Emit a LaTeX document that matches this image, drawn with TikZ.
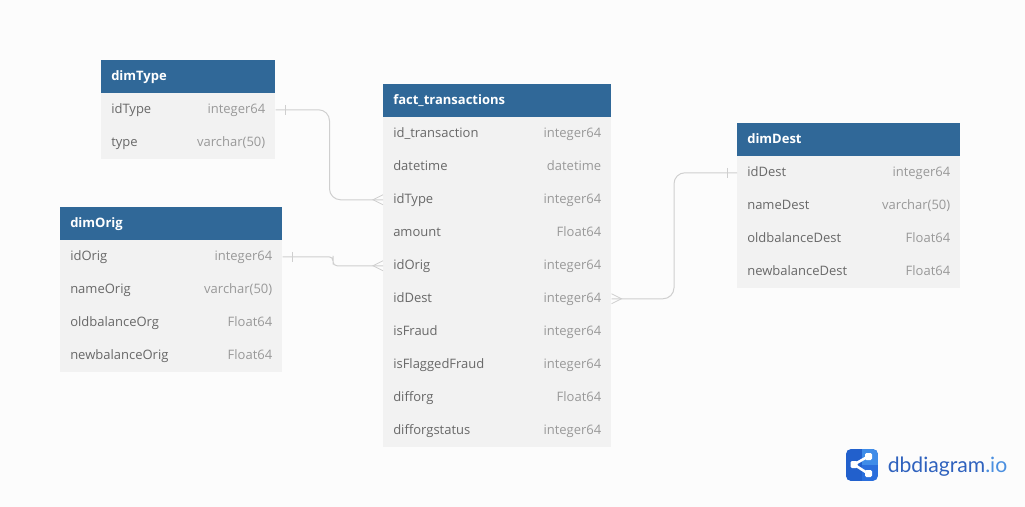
\documentclass[tikz,border=0pt]{standalone}
\usepackage{fontspec}
\setmainfont{Open Sans}
\newfontfamily\logofont{Lato}
\definecolor{pagebg}{HTML}{FCFCFC}
\definecolor{rowgray}{HTML}{F2F2F2}
\definecolor{headblue}{HTML}{306898}
\definecolor{fieldtext}{HTML}{686868}
\definecolor{typetext}{HTML}{999999}
\definecolor{linkgray}{HTML}{CFCFCF}
\definecolor{logoblue}{HTML}{2A6EDC}
\definecolor{logodark}{HTML}{2260CC}
\definecolor{logopale}{HTML}{3F8CE8}
\definecolor{logotext}{HTML}{2F62BE}
\definecolor{logolight}{HTML}{4A8FE0}
\tikzset{
  headbox/.style={fill=headblue,draw=none,inner sep=0pt,minimum height=24.75pt,anchor=north west},
  rowbox/.style={fill=rowgray,draw=none,inner sep=0pt,minimum height=24.75pt,anchor=north west},
  headtext/.style={text=white,inner sep=0pt,anchor=base west,font=\fontsize{9.75}{12}\selectfont\bfseries},
  fieldname/.style={text=fieldtext,inner sep=0pt,anchor=base west,font=\fontsize{9.75}{12}\selectfont},
  typename/.style={text=typetext,inner sep=0pt,anchor=base east,font=\fontsize{9.75}{12}\selectfont},
  link/.style={draw=linkgray,line width=0.75pt,line join=round},
  mark line/.style={draw=linkgray,line width=0.6pt}
}
\newcommand{\dbhead}[4]{%
  \node[headbox,minimum width=#3*0.75pt] (#1) at (#2) {};
  \node[headtext] (#1t) at ([shift={(7.5pt,-2.65pt)}]#1.west) {#4};}
\newcommand{\dbrow}[5]{%
  \node[rowbox,minimum width=#3*0.75pt] (#1) at (#2) {};
  \node[fieldname] (#1n) at ([shift={(7.5pt,-2.65pt)}]#1.west) {#4};
  \node[typename] (#1v) at ([shift={(-7.5pt,-2.65pt)}]#1.east) {#5};}
\begin{document}
\begin{tikzpicture}[x=0.75pt,y=-0.75pt]
\useasboundingbox (0,0) rectangle (1025,507);
\fill[pagebg] (0,0) rectangle (1025,507);
% dimType
\dbhead{tt}{101,60}{174}{dimType}
\dbrow{ta}{101,93}{174}{idType}{integer64}
\dbrow{tb}{101,126}{174}{type}{varchar(50)}
% dimOrig
\dbhead{ot}{60,207}{222}{dimOrig}
\dbrow{oa}{60,240}{222}{idOrig}{integer64}
\dbrow{ob}{60,273}{222}{nameOrig}{varchar(50)}
\dbrow{oc}{60,306}{222}{oldbalanceOrg}{Float64}
\dbrow{od}{60,339}{222}{newbalanceOrig}{Float64}
% fact_transactions
\dbhead{ft}{383,84}{228}{fact\_transactions}
\dbrow{fa}{383,117}{228}{id\_transaction}{integer64}
\dbrow{fb}{383,150}{228}{datetime}{datetime}
\dbrow{fc}{383,183}{228}{idType}{integer64}
\dbrow{fd}{383,216}{228}{amount}{Float64}
\dbrow{fe}{383,249}{228}{idOrig}{integer64}
\dbrow{ff}{383,282}{228}{idDest}{integer64}
\dbrow{fg}{383,315}{228}{isFraud}{integer64}
\dbrow{fh}{383,348}{228}{isFlaggedFraud}{integer64}
\dbrow{fi}{383,381}{228}{difforg}{Float64}
\dbrow{fj}{383,414}{228}{difforgstatus}{integer64}
% dimDest
\dbhead{dt}{737,123}{223}{dimDest}
\dbrow{da}{737,156}{223}{idDest}{integer64}
\dbrow{db}{737,189}{223}{nameDest}{varchar(50)}
\dbrow{dc}{737,222}{223}{oldbalanceDest}{Float64}
\dbrow{dd}{737,255}{223}{newbalanceDest}{Float64}
% connector bends
\coordinate (m1) at (329.5,150);
\coordinate (m2) at (333,260);
\coordinate (m3) at (674,230);
\draw[link,rounded corners=8.25pt] (ta.east) -| (m1) |- (fc.west);
\draw[link,rounded corners=3pt] (oa.east) -| (m2) |- (fe.west);
\draw[link,rounded corners=8.25pt] (ff.east) -| (m3) |- (da.west);
% one marks
\draw[mark line] ([shift={(7.5pt,3.75pt)}]ta.east) -- ([shift={(7.5pt,-3.75pt)}]ta.east);
\draw[mark line] ([shift={(7.5pt,3.75pt)}]oa.east) -- ([shift={(7.5pt,-3.75pt)}]oa.east);
\draw[mark line] ([shift={(-7.5pt,3.75pt)}]da.west) -- ([shift={(-7.5pt,-3.75pt)}]da.west);
% crow feet
\draw[mark line] ([yshift=3.75pt]fc.west) -- ([xshift=-7.5pt]fc.west) -- ([yshift=-3.75pt]fc.west);
\draw[mark line] ([yshift=3.75pt]fe.west) -- ([xshift=-7.5pt]fe.west) -- ([yshift=-3.75pt]fe.west);
\draw[mark line] ([yshift=3.75pt]ff.east) -- ([xshift=7.5pt]ff.east) -- ([yshift=-3.75pt]ff.east);
% logo
\begin{scope}
\clip[rounded corners=4pt] (846,449) rectangle (878,481);
\fill[logoblue] (846,449) rectangle (878,481);
\fill[logodark] (846,449) rectangle (862,481);
\fill[logopale] (862,449) rectangle (878,465);
\end{scope}
\draw[white,line width=1.9pt] (854,464.5) -- (868,456.5);
\draw[white,line width=1.9pt] (854,464.5) -- (868,473.5);
\fill[white,rounded corners=1pt] (850.5,461) rectangle (857.5,468);
\fill[white,rounded corners=1pt] (865,453) rectangle (872,460);
\fill[white,rounded corners=1pt] (865,470) rectangle (872,477);
\node[inner sep=0pt,anchor=base west,font=\logofont\fontsize{15.85}{18}\selectfont] (logo) at (887.5,472)
  {\textcolor{logotext}{dbdiagram}\textcolor{logolight}{.io}};
\end{tikzpicture}
\end{document}
